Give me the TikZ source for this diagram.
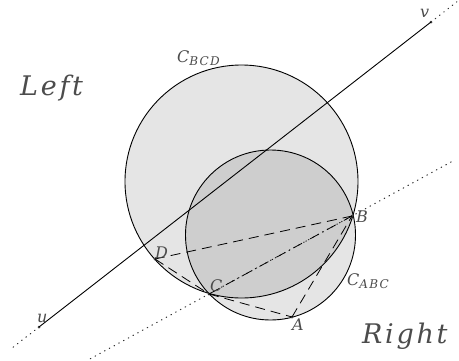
\documentclass[tikz,border=0pt]{standalone}
\usepackage{fontspec}
\newfontfamily\lblfont{DejaVu Serif}[LetterSpace=10.0]
\usetikzlibrary{calc}
\begin{document}
\begin{tikzpicture}[x=1pt,y=-1pt,
  pt/.style={circle,fill=black!70,inner sep=0pt,minimum size=3pt},
  lbl/.style={text=black!70,inner sep=0pt,anchor=base west,font=\lblfont\itshape\fontsize{16}{16}\selectfont},
  big/.style={text=black!70,inner sep=0pt,anchor=base west,font=\lblfont\itshape\fontsize{27}{27}\selectfont},
  circ/.style={draw=black,line width=0.9pt},
  dotline/.style={draw=black!80,line width=1.1pt,dash pattern=on 0.6pt off 4.8pt,line cap=round},
  dashline/.style={draw=black,line width=0.8pt,dash pattern=on 10pt off 6pt},
  dashdotline/.style={draw=black,line width=0.8pt,dash pattern=on 10pt off 4pt on 1.2pt off 4pt}]
\useasboundingbox (0,0) rectangle (459,360);
% circles
\fill[black,opacity=0.1] (241.5,181.5) circle (116.5pt);
\fill[black,opacity=0.1] (270.5,235) circle (85pt);
\draw[circ] (241.5,181.5) circle (116.5pt);
\draw[circ] (270.5,235) circle (85pt);
% points
\node[pt] (u) at (39,327) {};
\node[pt] (v) at (431,22) {};
\node[pt] (A) at (292,317) {};
\node[pt] (B) at (352,216) {};
\node[pt] (C) at (209,294) {};
\node[pt] (D) at (155,259) {};
\coordinate (u0) at ($(u.center)!-0.066!(v.center)$);
\coordinate (v0) at ($(v.center)!-0.066!(u.center)$);
\coordinate (c0) at ($(C.center)!-0.83!(B.center)$);
\coordinate (b0) at ($(B.center)!-0.71!(C.center)$);
% lines
\draw[dotline] (u0) -- (u.center);
\draw[dotline] (v.center) -- (v0);
\draw[line width=0.9pt] (u.center) -- (v.center);
\draw[dotline] (c0) -- (b0);
\draw[dashline] (D.center) -- (B.center);
\draw[dashline] (D.center) -- (C.center);
\draw[dashline] (C.center) -- (A.center);
\draw[dashline] (A.center) -- (B.center);
\draw[dashdotline] (C.center) -- (B.center);
% labels
\node[lbl] (lu) at (37,322) {u};
\node[lbl] (lv) at (420,17) {v};
\node[lbl] (lA) at (292,330) {A};
\node[lbl] (lB) at (356,222) {B};
\node[lbl] (lC) at (210,291) {C};
\node[lbl] (lD) at (155,258) {D};
\node[lbl] (lbcd) at (177,62) {C\raisebox{-3pt}{\fontsize{12}{12}\selectfont BCD}};
\node[lbl] (labc) at (347,285) {C\raisebox{-3pt}{\fontsize{12}{12}\selectfont ABC}};
\node[big] (left) at (20,95) {Left};
\node[big] (right) at (362,343) {Right};
\end{tikzpicture}
\end{document}
